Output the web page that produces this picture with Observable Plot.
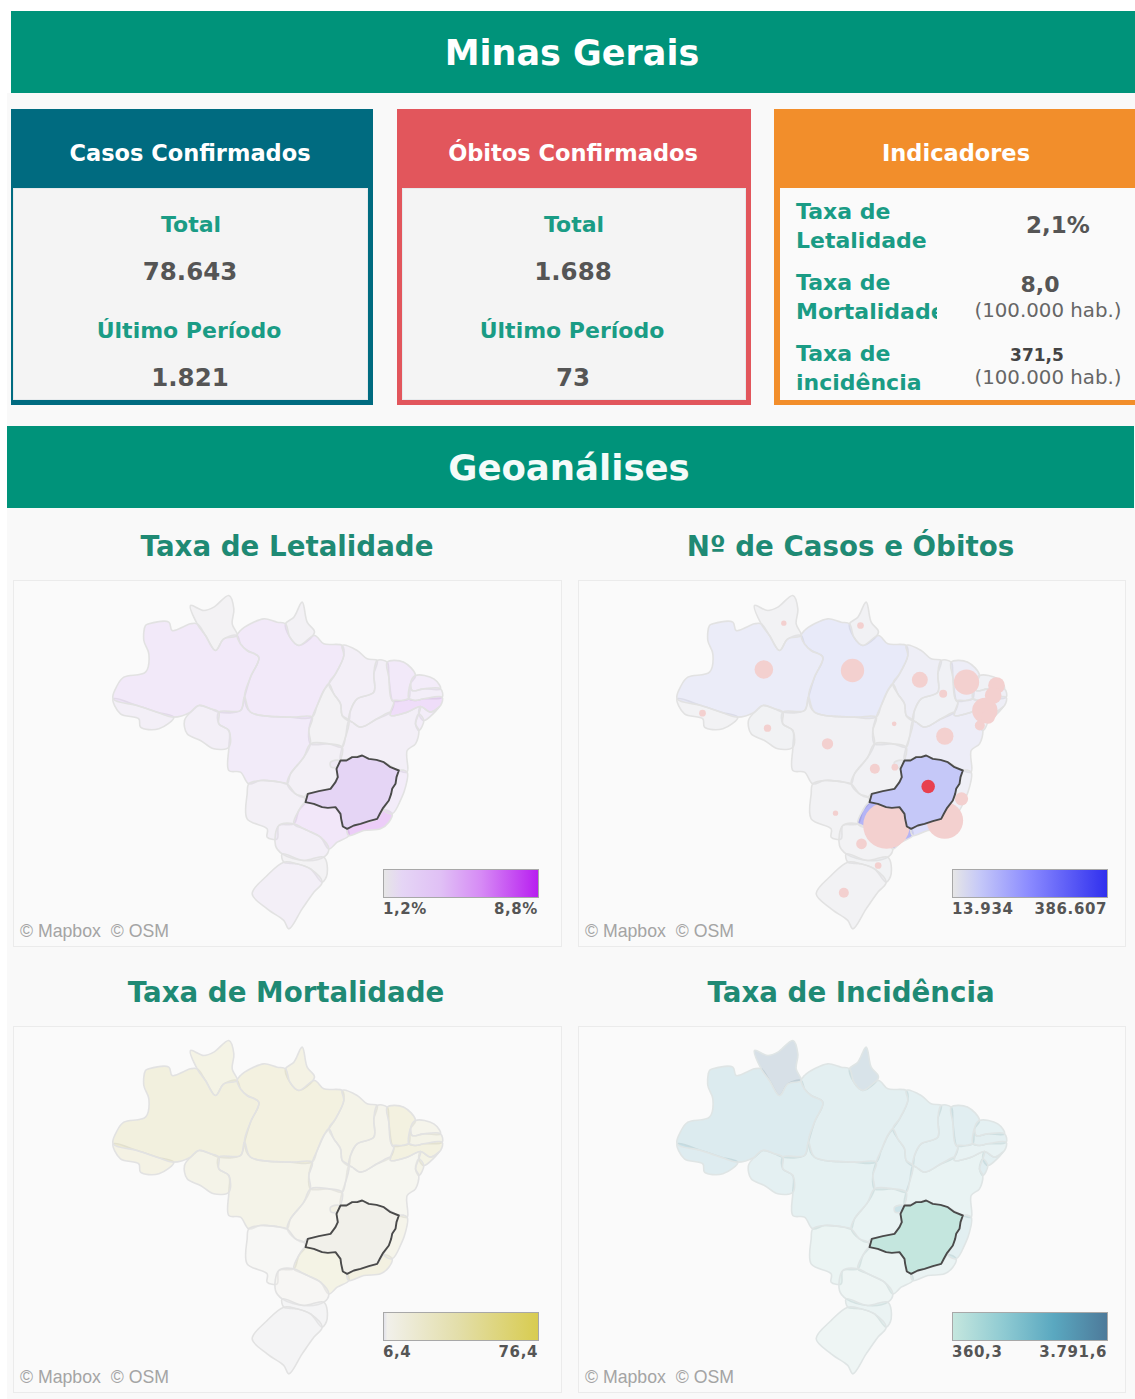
<!DOCTYPE html>
<html lang="pt-BR">
<head>
<meta charset="utf-8">
<script src="https://cdn.jsdelivr.net/npm/d3@7"></script>
<script src="https://cdn.jsdelivr.net/npm/@observablehq/plot@0.6"></script>
<style>
html,body{margin:0;padding:0;background:#fff;}
#page{position:relative;width:1135px;height:1399px;overflow:hidden;font-family:"DejaVu Sans",sans-serif;}
.box{position:absolute;box-sizing:border-box;}
.t{position:absolute;white-space:nowrap;transform:translate(-50%,-50%);line-height:1;}
.l{position:absolute;white-space:nowrap;transform:translateY(-50%);line-height:1;}
.map{position:absolute;}
.map svg{display:block;background:transparent;}
</style>
</head>
<body>
<div id="page"></div>
<script>
// ----- card content -----
const mainTitle = "Minas Gerais";
const sectionTitle = "Geoanálises";
const casosCard = {title:"Casos Confirmados", total:"78.643", ultimo:"1.821"};
const obitosCard = {title:"Óbitos Confirmados", total:"1.688", ultimo:"73"};
const indicadoresTitle = "Indicadores";
const perHab = "(100.000 hab.)";

// ----- state outlines (picture units of the map frame) -----
const AC=[[68,355],[140,375],[200,395],[250,410],[205,445],[150,440],[145,415],[90,400]];
const AM=[[165,135],[175,130],[235,125],[245,150],[300,130],[320,130],[345,165],[375,210],[400,175],[440,165],[450,190],[470,210],[505,230],[480,290],[462,350],[450,390],[385,395],[360,385],[325,375],[300,395],[250,410],[200,395],[140,375],[68,355],[80,315],[100,290],[165,275],[175,220],[160,180]];
const RR=[[300,75],[340,90],[370,80],[415,45],[430,85],[425,130],[440,165],[400,175],[375,210],[345,165],[320,130]];
const AP=[[635,65],[650,125],[672,155],[625,195],[598,170],[585,130],[610,110]];
const PA=[[440,165],[450,150],[480,130],[520,115],[560,125],[585,130],[598,170],[625,195],[672,165],[700,190],[755,195],[760,225],[735,280],[715,310],[700,330],[680,375],[665,410],[600,410],[480,395],[462,350],[480,290],[505,230],[470,210],[450,190]];
const MA=[[755,195],[800,210],[830,235],[860,240],[850,280],[850,335],[800,355],[780,390],[775,420],[755,405],[750,370],[730,340],[715,310],[735,280],[760,225]];
const PI=[[860,240],[890,245],[895,290],[905,360],[910,365],[900,395],[860,415],[810,440],[785,425],[775,420],[780,390],[800,355],[850,335],[850,280]];
const CE=[[890,245],[940,245],[975,285],[960,310],[955,355],[935,360],[905,360],[895,290]];
const RN=[[975,285],[1030,295],[1050,325],[1000,325],[965,330],[960,310]];
const PB=[[965,330],[1000,325],[1050,325],[1055,350],[1000,355],[975,360],[955,355],[960,310]];
const PE=[[905,360],[935,360],[955,355],[975,360],[1000,355],[1055,350],[1050,375],[1020,395],[990,378],[950,395],[900,405],[900,395],[910,365]];
const AL=[[990,378],[1020,395],[1045,380],[1000,420],[985,400]];
const SE=[[985,400],[1000,420],[985,450],[975,430]];
const BA=[[900,405],[950,395],[990,378],[985,400],[975,430],[985,450],[975,490],[950,510],[950,575],[925,570],[880,545],[835,535],[815,525],[785,530],[750,540],[755,500],[765,470],[775,420],[785,425],[810,440],[860,415],[900,395]];
const TO=[[715,310],[730,340],[750,370],[755,405],[775,420],[765,470],[755,500],[715,490],[660,490],[655,450],[665,410],[680,375],[700,330]];
const MT=[[385,395],[450,390],[462,350],[480,395],[600,410],[665,410],[655,450],[660,490],[640,530],[600,580],[590,610],[570,605],[510,600],[475,610],[450,575],[415,570],[415,500],[415,450],[385,430]];
const RO=[[325,375],[360,385],[385,395],[385,430],[415,450],[415,500],[370,505],[330,480],[290,460],[282,420],[300,395]];
const GO=[[660,490],[715,490],[755,500],[750,540],[740,560],[740,590],[720,625],[650,640],[640,650],[615,640],[590,610],[600,580],[640,530]];
const DF=[[720,545],[745,540],[742,558],[722,560]];
const MS=[[475,610],[510,600],[570,605],[590,610],[615,640],[640,650],[645,665],[625,690],[610,730],[565,735],[560,775],[530,770],[530,745],[470,715],[470,640]];
const SP=[[645,665],[695,680],[735,680],[750,700],[755,735],[770,745],[775,765],[740,785],[715,805],[690,770],[640,745],[610,730],[625,690]];
const RJ=[[860,715],[880,688],[905,700],[895,725],[870,745],[820,750],[775,765],[770,745],[810,730]];
const ES=[[925,570],[950,575],[945,620],[932,655],[905,700],[880,688],[895,660],[905,625],[915,610]];
const PR=[[610,730],[640,745],[690,770],[715,805],[700,830],[640,840],[575,820],[555,795],[565,735]];
const SC=[[575,820],[640,840],[700,830],[710,880],[695,905],[660,865],[620,850],[580,845]];
const RS=[[580,845],[620,850],[660,865],[695,905],[670,935],[635,985],[595,1045],[580,1020],[530,985],[485,940],[530,885]];
const MG=[[815,525],[835,535],[858,538],[880,545],[900,560],[925,570],[918,590],[915,610],[905,625],[902,640],[895,660],[878,682],[868,700],[860,715],[835,722],[810,730],[790,735],[770,745],[757,738],[752,715],[750,700],[735,680],[712,682],[695,680],[670,670],[645,665],[652,640],[685,632],[720,625],[735,605],[742,590],[738,565],[750,540],[768,540],[785,530],[800,530]];

const outlines={AC,AM,RR,AP,PA,MA,PI,CE,RN,PB,PE,AL,SE,BA,TO,MT,RO,GO,DF,MS,SP,RJ,ES,PR,SC,RS};

const letalidade={AC:1.9,AM:3.2,RR:1.4,AP:1.5,PA:3.3,MA:1.9,PI:1.9,CE:3.3,RN:2.4,PB:2.0,PE:5.0,AL:2.3,SE:2.3,BA:1.8,TO:1.4,MT:2.8,RO:1.8,GO:1.7,DF:1.6,MS:1.6,SP:3.7,RJ:6.5,ES:2.4,PR:1.9,SC:1.4,RS:1.8,MG:2.1};
const casos={AC:22000,AM:60000,RR:24000,AP:26000,PA:75000,MA:45000,PI:30000,CE:50000,RN:30000,PB:40000,PE:45000,AL:30000,SE:30000,BA:50000,TO:22000,MT:26000,RO:25000,GO:26000,DF:30000,MS:20000,SP:386607,RJ:140000,ES:40000,PR:24000,SC:25000,RS:24000,MG:78643};
const obitos={AC:410,AM:3200,RR:260,AP:410,PA:5000,MA:2350,PI:590,CE:5900,RN:2550,PB:2550,PE:5900,AL:1630,SE:920,BA:2760,TO:200,MT:1180,RO:490,GO:920,DF:410,MS:260,SP:20000,RJ:12350,ES:1630,PR:1050,SC:410,RS:920,MG:1688};
const mortalidade={AC:32,AM:40,RR:30,AP:32,PA:38,MA:26,PI:20,CE:38,RN:22,PB:26,PE:38,AL:30,SE:28,BA:14,TO:14,MT:26,RO:26,GO:16,DF:20,MS:8,SP:30,RJ:36,ES:24,PR:9,SC:7,RS:7,MG:8.0};
const incidencia={AC:2200,AM:2400,RR:3791.6,AP:3500,PA:1700,MA:1500,PI:1500,CE:1900,RN:1500,PB:1700,PE:1100,AL:1700,SE:2000,BA:1000,TO:1500,MT:1400,RO:1500,GO:1000,DF:2700,MS:800,SP:800,RJ:900,ES:1800,PR:500,SC:900,RS:500,MG:371.5};

// bubble centres of the deaths map (same picture units)
const bubbleStates=["AC","AM","RR","AP","PA","MA","PI","CE","RN","PB","PE","AL","SE","BA","TO","MT","RO","GO","DF","MS","SP","RJ","ES","PR","SC","RS"];
const bubbleX=[144,328,388,618,594,796,866,936,1026,1016,991,1001,976,871,719,519,339,661,721,543,696,871,921,621,671,568];
const bubbleY=[398,267,128,135,270,298,340,305,315,345,390,410,435,467,430,490,443,565,560,698,735,720,655,790,855,937];
const mgBubble={x:821,y:618};

// ----- colour ramps -----
const rampLet={domain:[1.2,2.1,4,6,8.8],range:["#e6e6e6","#e5d5f5","#e0c0f5","#d68af5","#b81ff0"]};
const rampCas={domain:[13934,78643,200000,386607],range:["#e6e6e6","#c5c8f8","#8a8aff","#3030ee"]};
const rampMor={domain:[6.4,8,40,76.4],range:["#e2e2ea","#f1f0ea","#e3deaa","#d8cc50"]};
const rampInc={domain:[360.3,371.5,1500,2600,3791.6],range:["#c0e6de","#c4e6de","#8ecad2","#5aa8c0","#4d7a9a"]};

const rows=Object.entries(outlines).flatMap(([state,pts])=>pts.map(([x,y])=>({state,x,y})));
const mgRows=MG.map(([x,y])=>({state:"MG",x,y}));
const smooth="catmull-rom-closed";

function mapPlot(values,ramp,{alpha=0.35,stroke="#e2e2e2",bubbles=false}={}){
  const marks=[
    Plot.line(rows,{x:"x",y:"y",z:"state",curve:smooth,fill:d=>values[d.state],fillOpacity:alpha,stroke,strokeWidth:1.6}),
    Plot.line(mgRows,{x:"x",y:"y",z:"state",curve:"linear-closed",fill:d=>values[d.state],stroke:"#4a4a4a",strokeWidth:1.9})
  ];
  if(bubbles){
    const b=bubbleStates.map((s,i)=>({s,x:bubbleX[i],y:bubbleY[i],v:obitos[s]}));
    marks.splice(1,0,Plot.dot(b,{x:"x",y:"y",r:"v",fill:"#f3d0cf",stroke:"none"}));
    marks.push(Plot.dot([{x:mgBubble.x,y:mgBubble.y,v:obitos.MG}],{x:"x",y:"y",r:"v",fill:"#e8404f",stroke:"none"}));
  }
  return Plot.plot({
    width:370,height:360,margin:0,
    style:{background:"transparent"},
    x:{domain:[0,1110],axis:null},
    y:{domain:[0,1080],reverse:true,axis:null},
    r:{type:"sqrt",domain:[0,20000],range:[0,23.3]},
    color:{type:"linear",domain:ramp.domain,range:ramp.range},
    marks
  });
}

// ----- page layout helpers -----
const page=document.getElementById("page");
function box(x,y,w,h,bg,extra=""){const d=document.createElement("div");d.className="box";d.style.cssText=`left:${x}px;top:${y}px;width:${w}px;height:${h}px;background:${bg};${extra}`;page.append(d);return d;}
function ctext(s,x,y,size,color,weight="bold"){const d=document.createElement("div");d.className="t";d.textContent=s;d.style.cssText=`left:${x}px;top:${y}px;font-size:${size}px;color:${color};font-weight:${weight};`;page.append(d);return d;}
function ltext(s,x,y,size,color,weight="bold",extra=""){const d=document.createElement("div");d.className="l";d.textContent=s;d.style.cssText=`left:${x}px;top:${y}px;font-size:${size}px;color:${color};font-weight:${weight};${extra}`;page.append(d);return d;}

const TEAL="#00937a",GREEN="#1a9c85",GREY="#555";
box(7,93,1128,1306,"#f9f9f9");
box(11,11,1124,82,TEAL);
ctext(mainTitle,572,53,35,"#fff");

// count cards
function card(c,x,w,inL,inW,color,cx){
  box(x,109,w,296,color);
  box(inL,188,inW,212,"#f4f4f4","border:1px solid #e6eaec;");
  ctext(c.title,cx,153,22.5,"#fff");
  ctext("Total",cx+1,225,22,GREEN);
  ctext(c.total,cx,272,24.5,GREY);
  ctext("Último Período",cx-1,331,22,GREEN);
  ctext(c.ultimo,cx,378,24.5,GREY);
}
card(casosCard,11,362,13,355,"#006b80",190);
card(obitosCard,397,354,402,344,"#e2565c",573);

// indicators card
box(774,109,361,296,"#f28e2b");
box(780,188,355,212,"#fafafa");
ctext(indicadoresTitle,956,153,22.5,"#fff");
ltext("Taxa de",796,212,22,GREEN);
ltext("Letalidade",796,241,22,GREEN);
ltext("Taxa de",796,283,22,GREEN);
ltext("Mortalidade",796,312,22,GREEN,"bold","width:141px;overflow:hidden;");
ltext("Taxa de",796,354,22,GREEN);
ltext("incidência",796,383,22,GREEN);
ctext("2,1%",1058,225,23,GREY);
ctext("8,0",1040,285,22,GREY);
ctext(perHab,1048,311,19.8,"#666","normal");
ctext("371,5",1037,355,17,"#444");
ctext(perHab,1048,378,19.8,"#666","normal");

// Geoanálises
box(7,426,1127,82,TEAL);
ctext(sectionTitle,569,468,35.5,"#f4fbf9");

const panels=[
  {title:"Taxa de Letalidade",cx:287,px:13,py:580,pw:549,titleY:547,legendX:383,legendY:869,values:letalidade,ramp:rampLet,lo:"1,2%",hi:"8,8%",opt:{}},
  {title:"Nº de Casos e Óbitos",cx:850.5,px:578,py:580,pw:548,titleY:547,legendX:952,legendY:869,values:casos,ramp:rampCas,lo:"13.934",hi:"386.607",opt:{bubbles:true}},
  {title:"Taxa de Mortalidade",cx:286,px:13,py:1026,pw:549,titleY:993,legendX:383,legendY:1312,values:mortalidade,ramp:rampMor,lo:"6,4",hi:"76,4",opt:{}},
  {title:"Taxa de Incidência",cx:851,px:578,py:1026,pw:548,titleY:993,legendX:952,legendY:1312,values:incidencia,ramp:rampInc,lo:"360,3",hi:"3.791,6",opt:{alpha:0.2,stroke:"#dfe5e5"}}
];
for(const p of panels){
  ctext(p.title,p.cx,p.titleY,27.7,"#1f8a74");
  box(p.px,p.py,p.pw,367,"#fafafa","border:1px solid #ebebeb;");
  const wrap=document.createElement("div");
  wrap.className="map";
  wrap.style.cssText=`left:${p.px+77-(p.px===578?1:0)}px;top:${p.py===580?580:1025}px;width:370px;height:360px;`;
  wrap.append(mapPlot(p.values,p.ramp,p.opt));
  page.append(wrap);
  // legend ramp
  const d0=p.ramp.domain[0],d1=p.ramp.domain[p.ramp.domain.length-1];
  const stops=p.ramp.domain.map((v,i)=>`${p.ramp.range[i]} ${((v-d0)/(d1-d0)*100).toFixed(1)}%`).join(",");
  const lx=p.legendX;
  box(lx,p.legendY,156,29,`linear-gradient(90deg,${stops})`,"border:1px solid #a8a8a8;");
  ltext(p.lo,lx,p.legendY+40,15,GREY,"bold","letter-spacing:.6px;");
  ltext(p.hi,lx+155,p.legendY+40,15,GREY,"bold","letter-spacing:.6px;transform:translate(-100%,-50%);");
  ltext("© Mapbox  © OSM",p.px+7,p.py+352,17.7,"#a4a4a4","normal","font-family:'Liberation Sans',sans-serif;white-space:pre;");
}
</script>
</body>
</html>
